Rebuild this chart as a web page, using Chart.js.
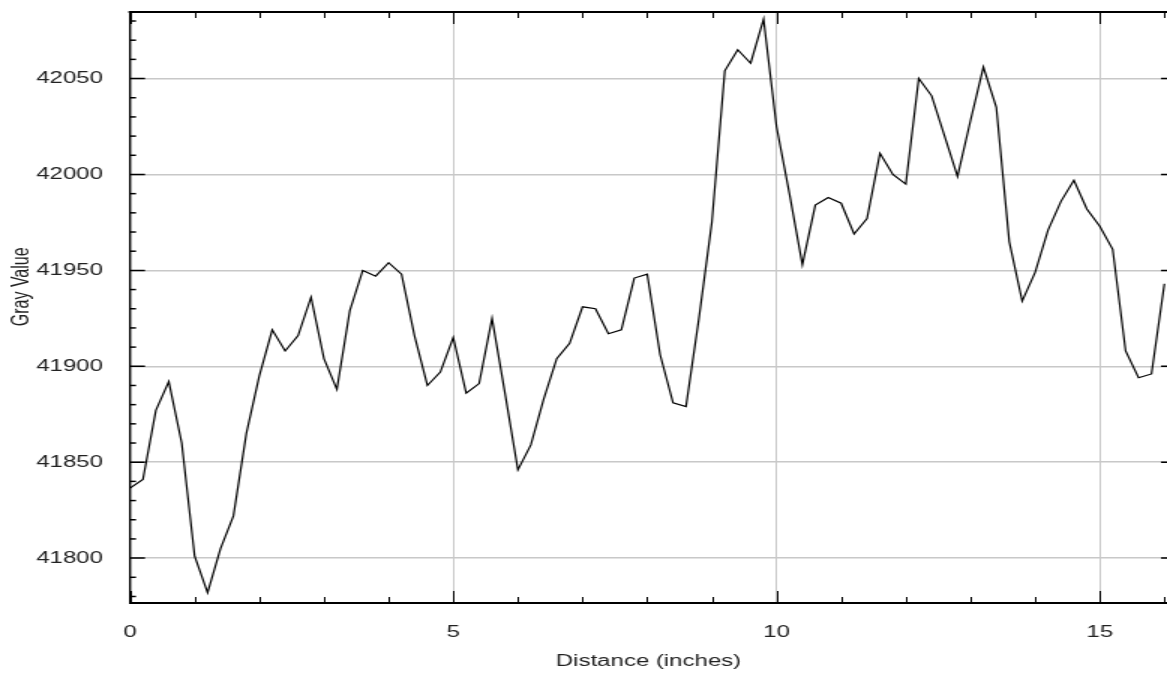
<!DOCTYPE html>
<html>
<head>
<meta charset="utf-8">
<script src="https://cdn.jsdelivr.net/npm/chart.js@4.4.1/dist/chart.umd.min.js"></script>
<style>
  html, body { margin: 0; padding: 0; background: #fff; overflow: hidden; }
  #wrap { position: absolute; left: 0; top: 0; width: 778px; height: 673px;
          transform: scaleX(1.5); transform-origin: 0 0; }
</style>
</head>
<body>
<div id="wrap"><canvas id="c" width="778" height="673"></canvas></div>
<script>
// ---- data ----
const distance = [
  0.0, 0.2, 0.4, 0.6, 0.8, 1.0, 1.2, 1.4, 1.6, 1.8,
  2.0, 2.2, 2.4, 2.6, 2.8, 3.0, 3.2, 3.4, 3.6, 3.8,
  4.0, 4.2, 4.4, 4.6, 4.8, 5.0, 5.2, 5.4, 5.6, 5.8,
  6.0, 6.2, 6.4, 6.6, 6.8, 7.0, 7.2, 7.4, 7.6, 7.8,
  8.0, 8.2, 8.4, 8.6, 8.8, 9.0, 9.2, 9.4, 9.6, 9.8,
  10.0, 10.2, 10.4, 10.6, 10.8, 11.0, 11.2, 11.4, 11.6, 11.8,
  12.0, 12.2, 12.4, 12.6, 12.8, 13.0, 13.2, 13.4, 13.6, 13.8,
  14.0, 14.2, 14.4, 14.6, 14.8, 15.0, 15.2, 15.4, 15.6, 15.8,
  16.0
];
const grayValue = [
  41836.5, 41841, 41877, 41892, 41860, 41801, 41782, 41805, 41822, 41865,
  41895, 41919, 41908, 41916, 41936, 41904, 41888, 41929, 41950, 41947,
  41954, 41948, 41916, 41890, 41897, 41915, 41886, 41891, 41925, 41886,
  41846, 41859, 41883, 41904, 41912, 41931, 41930, 41917, 41919, 41946,
  41948, 41906, 41881, 41879, 41925, 41975, 42054, 42065, 42058, 42081,
  42025, 41990, 41953, 41984, 41988, 41985, 41969, 41977, 42011, 42000,
  41995, 42050, 42041, 42020, 41999, 42028, 42056, 42035, 41965, 41934,
  41949, 41971, 41986, 41997, 41982, 41973, 41961, 41908, 41894, 41896,
  41943
];
const xTickLabels = [0, 5, 10, 15];
const yTickLabels = [41800, 41850, 41900, 41950, 42000, 42050];
const xTitle = 'Distance (inches)';
const yTitle = 'Gray Value';

const points = distance.map((d, i) => ({ x: d, y: grayValue[i] }));

const FONT = "'Liberation Sans', Arial, sans-serif";

// inward frame ticks on all sides (positions from the library's scales)
const frameTicks = {
  id: 'frameTicks',
  afterDraw(chart) {
    const { ctx, chartArea: a, scales: { x, y } } = chart;
    ctx.save();
    ctx.strokeStyle = '#000';
    ctx.lineWidth = 2;
    ctx.beginPath();
    ctx.moveTo(a.left - 1, a.top);
    ctx.lineTo(a.right, a.top);
    ctx.stroke();
    ctx.lineWidth = 1;
    // x ticks (bottom & top)
    for (let v = Math.ceil(x.min); v <= x.max; v += 1) {
      const px = Math.round(x.getPixelForValue(v)) + 0.5;
      const len = xTickLabels.includes(v) ? 12 : 6;
      ctx.beginPath();
      ctx.moveTo(px, a.bottom); ctx.lineTo(px, a.bottom - len);
      ctx.moveTo(px, a.top); ctx.lineTo(px, a.top + len);
      ctx.stroke();
    }
    // y ticks (left & right)
    ctx.lineWidth = 1.5;
    for (let v = Math.ceil(y.min / 10) * 10; v <= y.max; v += 10) {
      const py = y.getPixelForValue(v);
      const major = yTickLabels.includes(v);
      const len = major ? 10 : 4;
      ctx.beginPath();
      ctx.moveTo(a.left, py); ctx.lineTo(a.left + len, py);
      if (major) { ctx.moveTo(a.right, py); ctx.lineTo(a.right - 4, py); }
      ctx.stroke();
    }
    // y-axis title (placed slightly above the plot centre, as in the original)
    ctx.fillStyle = '#222';
    ctx.font = '16px ' + FONT;
    ctx.textAlign = 'center';
    ctx.textBaseline = 'middle';
    ctx.translate(14.7, a.top + (a.bottom - a.top) * 0.465);
    ctx.rotate(-Math.PI / 2);
    ctx.fillText(yTitle, 0, 0);
    ctx.restore();
  }
};

new Chart(document.getElementById('c'), {
  type: 'line',
  data: {
    datasets: [{
      data: points,
      borderColor: '#000',
      borderWidth: 1.2,
      pointRadius: 0,
      tension: 0,
      fill: false
    }]
  },
  options: {
    responsive: false,
    animation: false,
    devicePixelRatio: 1,
    layout: { padding: { top: 12, right: 0, bottom: 0, left: 0 } },
    plugins: { legend: { display: false }, tooltip: { enabled: false } },
    scales: {
      x: {
        type: 'linear',
        min: 0,
        max: 16.04,
        afterBuildTicks: s => { s.ticks = xTickLabels.map(v => ({ value: v })); },
        afterFit: s => { s.height = 70; s.paddingLeft = 0; s.paddingRight = 0; },
        grid: { color: '#c8c8c8', lineWidth: 1, drawTicks: false },
        border: { display: true, color: '#000', width: 2 },
        ticks: {
          padding: 20,
          maxRotation: 0,
          autoSkip: false,
          color: '#222',
          font: { family: FONT, size: 16 },
          callback: v => String(v)
        },
        title: {
          display: true,
          text: xTitle,
          color: '#222',
          font: { family: FONT, size: 16 },
          padding: { top: 0, bottom: 2 }
        }
      },
      y: {
        type: 'linear',
        min: 41776.6,
        max: 42084.7,
        afterBuildTicks: s => { s.ticks = yTickLabels.map(v => ({ value: v })); },
        afterFit: s => { s.width = 86.67; s.paddingTop = 0; s.paddingBottom = 0; },
        grid: { color: '#c8c8c8', lineWidth: 1.5, drawTicks: false },
        border: { display: true, color: '#000', width: 1.4 },
        ticks: {
          padding: 18,
          autoSkip: false,
          color: '#222',
          font: { family: FONT, size: 16 },
          callback: v => String(v)
        },
        title: { display: false }
      }
    }
  },
  plugins: [frameTicks]
});
</script>
</body>
</html>
